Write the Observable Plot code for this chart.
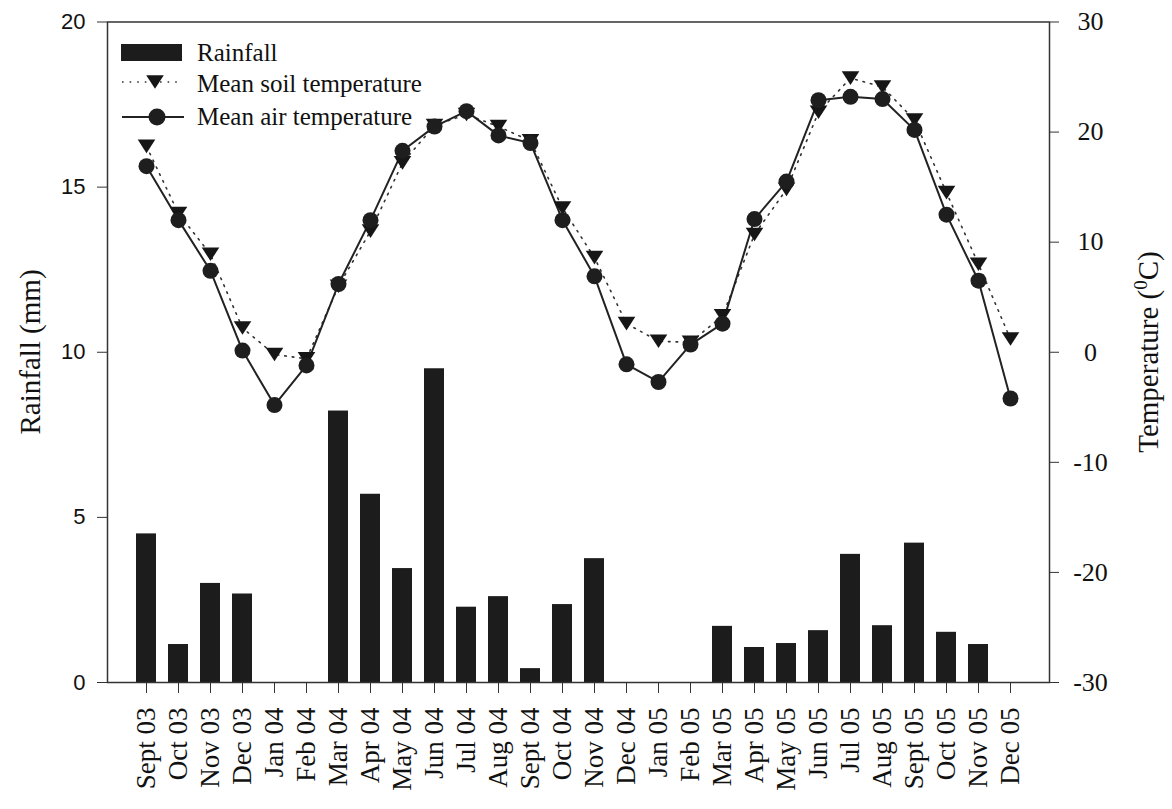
<!DOCTYPE html>
<html>
<head>
<meta charset="utf-8">
<script src="https://cdn.jsdelivr.net/npm/d3@7"></script>
<script src="https://cdn.jsdelivr.net/npm/@observablehq/plot@0.6"></script>
<style>
  html, body { margin: 0; padding: 0; background: #fff; }
  #chart { width: 1172px; height: 809px; }
</style>
</head>
<body>
<div id="chart"></div>
<script>
// ---- Data ----
const months = ["Sept 03","Oct 03","Nov 03","Dec 03","Jan 04","Feb 04","Mar 04","Apr 04","May 04","Jun 04","Jul 04","Aug 04","Sept 04","Oct 04","Nov 04","Dec 04","Jan 05","Feb 05","Mar 05","Apr 05","May 05","Jun 05","Jul 05","Aug 05","Sept 05","Oct 05","Nov 05","Dec 05"];
const rainfall = [4.5, 1.15, 3.0, 2.68, 0, 0, 8.22, 5.7, 3.45, 9.5, 2.28, 2.6, 0.42, 2.36, 3.75, 0, 0, 0, 1.7, 1.06, 1.18, 1.57, 3.88, 1.72, 4.22, 1.52, 1.15, 0];
const soilTemp = [18.7, 12.6, 8.9, 2.2, -0.2, -0.6, 6.0, 11.0, 17.2, 20.6, 21.6, 20.5, 19.2, 13.1, 8.6, 2.6, 1.0, 0.9, 3.3, 10.7, 14.8, 21.8, 24.9, 24.1, 21.1, 14.5, 8.0, 1.2];
const airTemp = [16.9, 12.0, 7.4, 0.15, -4.8, -1.2, 6.2, 12.0, 18.3, 20.5, 21.9, 19.7, 19.0, 12.0, 6.9, -1.1, -2.7, 0.7, 2.6, 12.1, 15.5, 22.9, 23.2, 23.0, 20.2, 12.5, 6.5, -4.2];
const rainTicks = [0, 5, 10, 15, 20];
const tempTicks = [-30, -20, -10, 0, 10, 20, 30];
const legendLabels = ["Rainfall", "Mean soil temperature", "Mean air temperature"];

// temperature (-30..30 °C) mapped onto rainfall axis (0..20 mm)
const toRain = t => (t + 30) / 3;
const fromRain = v => Math.round(v * 3 - 30);

const table = months.map((m, i) => ({
  month: m,
  rain: rainfall[i],
  soil: toRain(soilTemp[i]),
  air: toRain(airTemp[i])
}));

const triangleDown = {
  draw(context, size) {
    const r = Math.sqrt(size / Math.PI);
    const w = r * 1.1, h = r * 0.85;
    context.moveTo(-w, -h);
    context.lineTo(w, -h);
    context.lineTo(0, h);
    context.closePath();
  }
};

const serif = "'Liberation Serif', 'Times New Roman', serif";
const sans = "'Liberation Sans', Arial, sans-serif";

const chart = Plot.plot({
  width: 1172,
  height: 809,
  marginLeft: 107,
  marginRight: 123,
  marginTop: 21.5,
  marginBottom: 127,
  style: { background: "white", fontFamily: serif, color: "#111", overflow: "visible" },
  x: { type: "band", domain: months, paddingInner: 0.38, paddingOuter: 0.71, align: 0.5, label: null },
  y: { domain: [0, 20], label: null },
  marks: [
    Plot.barY(table, { x: "month", y: "rain", fill: "#1c1c1c" }),
    Plot.line(table, { x: "month", y: "soil", stroke: "#333", strokeWidth: 1.6, strokeDasharray: "1.6,6" }),
    Plot.line(table, { x: "month", y: "air", stroke: "#222", strokeWidth: 2 }),
    Plot.dot(table, { x: "month", y: "soil", symbol: triangleDown, r: 8, fill: "#161616", stroke: "none" }),
    Plot.dot(table, { x: "month", y: "air", r: 8, fill: "#1e1e1e", stroke: "none" }),
    Plot.frame({ stroke: "#333", strokeWidth: 1.5 }),
    Plot.axisX({ tickRotate: -90, tickSize: 11, tickPadding: 14, fontSize: 27, fontFamily: serif, label: null, stroke: "#333" }),
    Plot.axisY({ anchor: "left", ticks: rainTicks, tickSize: 10, tickPadding: 12, fontSize: 22, fontFamily: sans, label: null, stroke: "#333" }),
    Plot.axisY({ anchor: "right", ticks: tempTicks.map(toRain), tickFormat: fromRain, tickSize: 9, tickPadding: 32, textAnchor: "middle", fontSize: 26, fontFamily: serif, label: null, stroke: "#333" })
  ]
});

document.getElementById("chart").appendChild(chart);

// ---- Axis titles and legend (added to the same SVG) ----
const svg = d3.select(chart);

svg.append("text")
  .attr("transform", "translate(40,352) rotate(-90)")
  .attr("text-anchor", "middle")
  .attr("font-family", serif)
  .attr("font-size", 29)
  .attr("fill", "#111")
  .text("Rainfall (mm)");

const rt = svg.append("text")
  .attr("transform", "translate(1158,352) rotate(-90)")
  .attr("text-anchor", "middle")
  .attr("font-family", serif)
  .attr("font-size", 29)
  .attr("fill", "#111");
rt.append("tspan").text("Temperature (");
rt.append("tspan").attr("font-size", 19).attr("dy", -11).text("0");
rt.append("tspan").attr("dy", 11).text("C)");

const lg = svg.append("g")
  .attr("font-family", serif)
  .attr("font-size", 25)
  .attr("text-anchor", "start")
  .attr("fill", "#111");
// rainfall swatch
lg.append("rect").attr("x", 121).attr("y", 44).attr("width", 61).attr("height", 17).attr("fill", "#1c1c1c");
lg.append("text").attr("x", 197).attr("y", 61).text(legendLabels[0]);
// soil
lg.append("line").attr("x1", 122).attr("x2", 182).attr("y1", 82).attr("y2", 82)
  .attr("stroke", "#333").attr("stroke-width", 1.6).attr("stroke-dasharray", "1.6,6");
const tp = d3.path(); triangleDown.draw(tp, 64 * Math.PI);
lg.append("path").attr("d", tp.toString()).attr("transform", "translate(155,82)").attr("fill", "#161616");
lg.append("text").attr("x", 197).attr("y", 92).text(legendLabels[1]);
// air
lg.append("line").attr("x1", 122).attr("x2", 184).attr("y1", 117).attr("y2", 117)
  .attr("stroke", "#222").attr("stroke-width", 2);
lg.append("circle").attr("cx", 157).attr("cy", 117).attr("r", 8.5).attr("fill", "#1e1e1e");
lg.append("text").attr("x", 197).attr("y", 125).text(legendLabels[2]);
</script>
</body>
</html>
